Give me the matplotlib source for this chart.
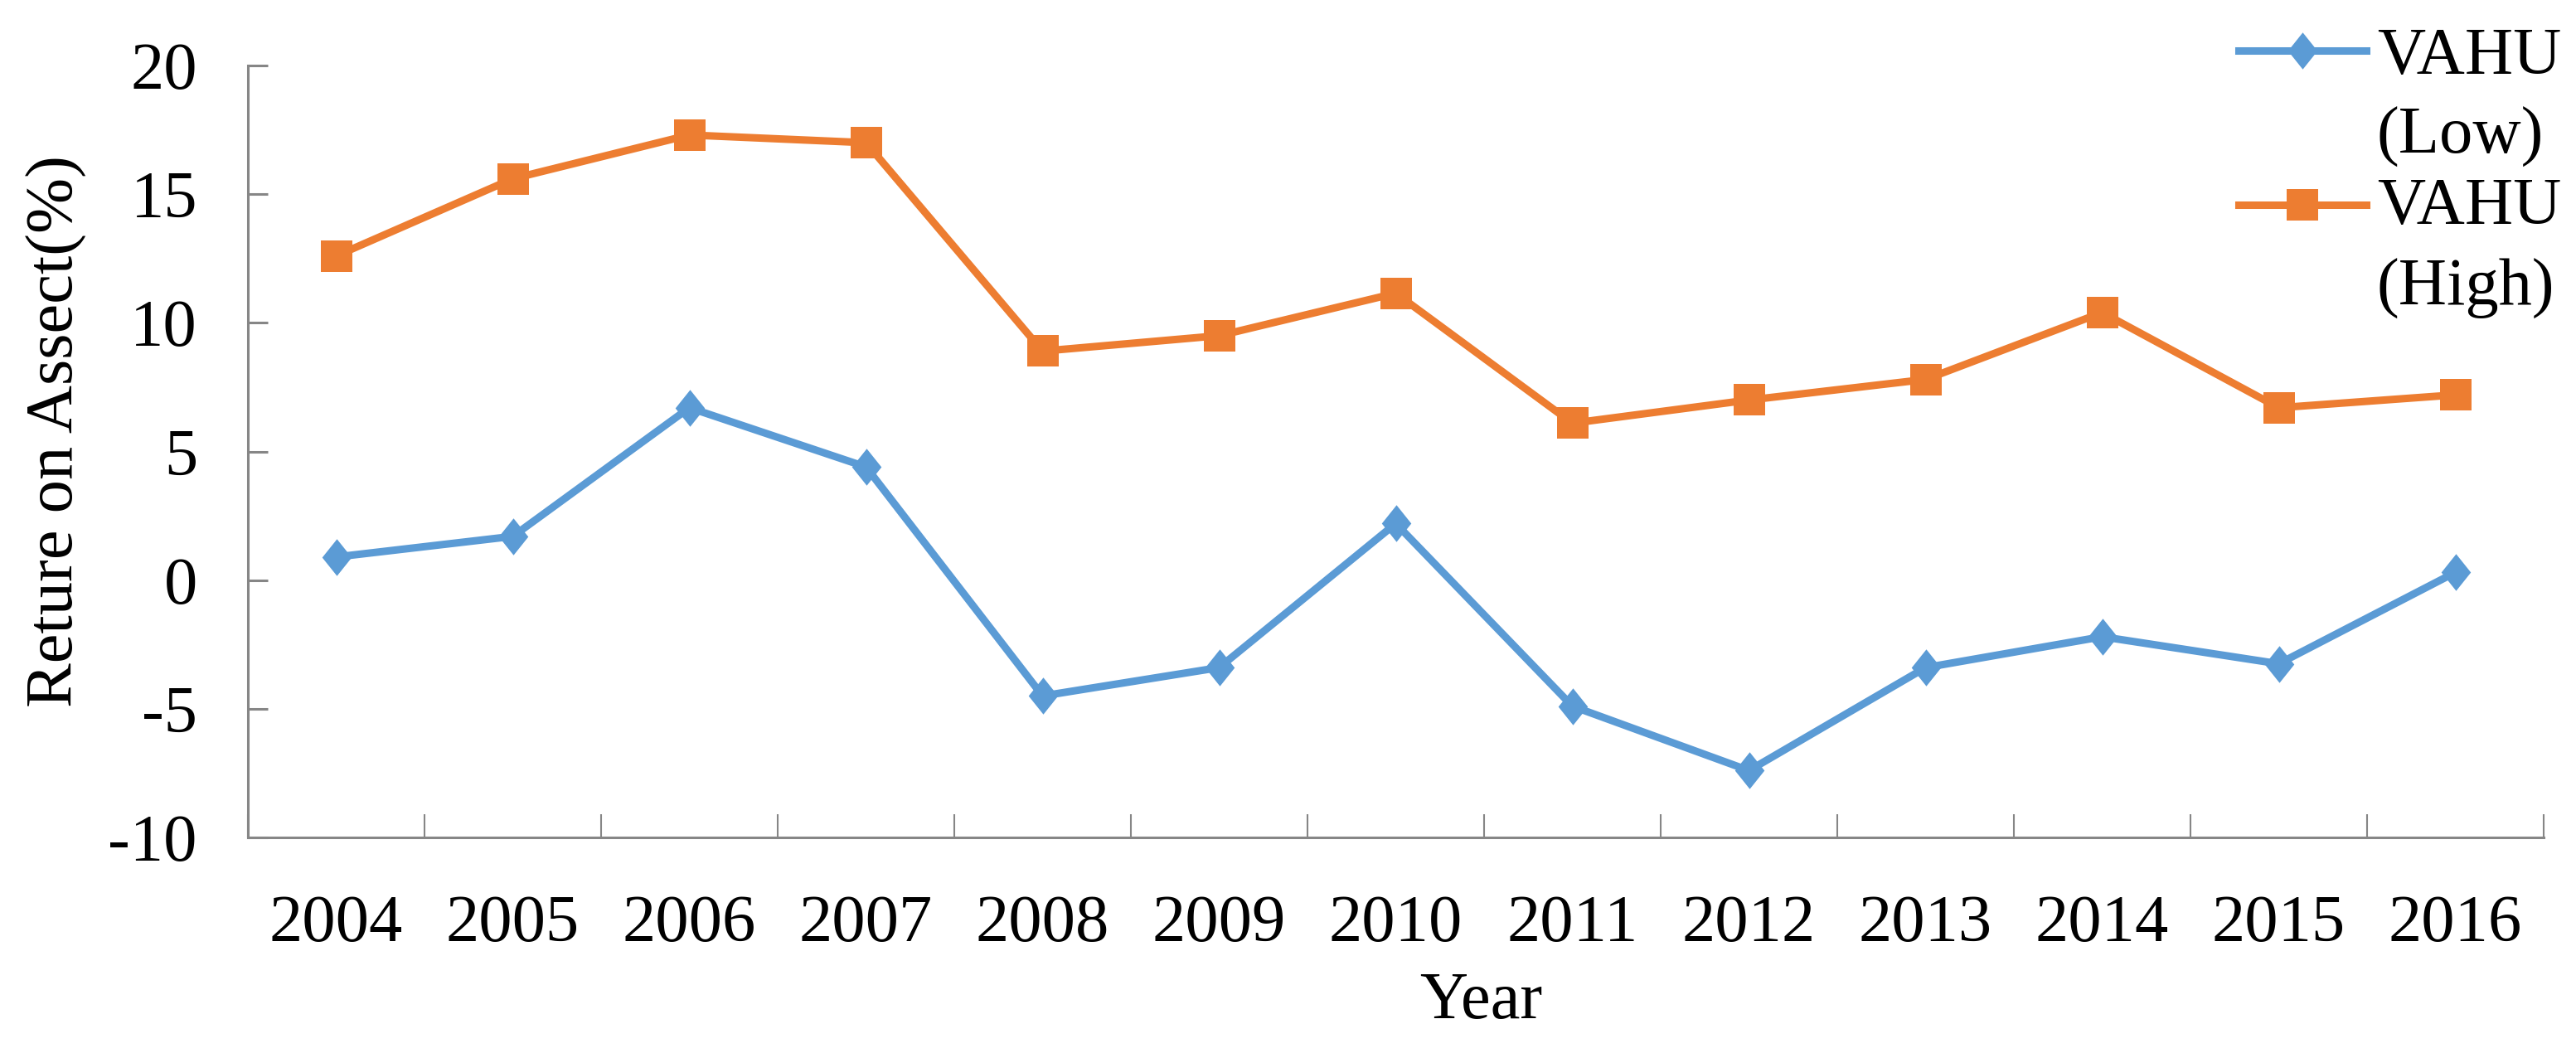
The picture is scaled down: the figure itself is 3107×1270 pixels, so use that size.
import matplotlib
matplotlib.use("Agg")
import matplotlib.pyplot as plt
from matplotlib.lines import Line2D
from matplotlib.path import Path
import numpy as np

years = ["2004", "2005", "2006", "2007", "2008", "2009", "2010",
         "2011", "2012", "2013", "2014", "2015", "2016"]
vahu_low = [0.9, 1.7, 6.7, 4.4, -4.5, -3.4, 2.2, -4.9, -7.4, -3.4, -2.2, -3.25, 0.3]
vahu_high = [12.6, 15.6, 17.3, 17.0, 8.9, 9.5, 11.15, 6.1, 7.0, 7.8, 10.4, 6.7, 7.2]
yticks = [-10, -5, 0, 5, 10, 15, 20]
series_labels = [["VAHU", "(Low)"], ["VAHU", "(High)"]]

plt.rcParams['font.family'] = ['Liberation Serif', 'DejaVu Serif']

W, H = 3107, 1270
FS = 58
fig = plt.figure(figsize=(W / 100, H / 100), dpi=100)
ax = fig.add_axes([299 / W, 1 - 1010 / H, (3068 - 299) / W, (1010 - 79) / H])

blue = '#5B9BD5'
orange = '#ED7D31'
diamond = Path([(0, 1), (0.8, 0), (0, -1), (-0.8, 0), (0, 1)],
               [Path.MOVETO, Path.LINETO, Path.LINETO, Path.LINETO, Path.CLOSEPOLY])

x = np.arange(len(years))
ax.plot(x, vahu_low, color=blue, lw=6.5, marker=diamond, ms=32, mec=blue, mfc=blue,
        mew=0, solid_joinstyle='round')
ax.plot(x, vahu_high, color=orange, lw=6.5, marker='s', ms=28, mec=orange, mfc=orange,
        mew=0, solid_joinstyle='round')

ax.set_xlim(-0.5, len(years) - 0.5)
ax.set_ylim(-10, 20)
ax.set_yticks(yticks)
ax.set_yticklabels([str(v) for v in yticks])
ax.set_xticks(x)
ax.set_xticklabels(years)
ax.set_xticks(np.arange(-0.5, len(years)), minor=True)

for s in ['top', 'right']:
    ax.spines[s].set_visible(False)
for s in ['left', 'bottom']:
    ax.spines[s].set_color('#868686')
    ax.spines[s].set_linewidth(2.2)

ax.tick_params(axis='y', direction='in', length=17, width=2.2, color='#868686',
               labelsize=FS, pad=44)
ax.tick_params(axis='x', which='major', length=0, labelsize=FS, pad=50)
ax.tick_params(axis='x', which='minor', direction='in', length=20, width=1.5,
               color='#868686')

fig.text(88 / W, 1 - 520 / H, 'Reture on Assect(%)', rotation=90, fontsize=FS,
         ha='center', va='baseline', rotation_mode='anchor')
fig.text(1786 / W, 1 - 1228 / H, 'Year', fontsize=FS, ha='center', va='baseline')

# legend (drawn by hand to follow the reference layout)
legend_specs = [
    (blue, diamond, 32, 61, [89, 185]),
    (orange, 's', 28, 247, [270, 368]),
]
for (col, mk, ms, ly, baselines), lab in zip(legend_specs, series_labels):
    fig.add_artist(Line2D([2700 / W, 2854 / W], [1 - ly / H, 1 - ly / H],
                          transform=fig.transFigure, color=col, lw=6.5))
    fig.add_artist(Line2D([2777 / W], [1 - ly / H], transform=fig.transFigure,
                          marker=mk, ms=ms, mfc=col, mec=col, mew=0, ls='none'))
    for txt, b in zip(lab, baselines):
        fig.text(2867 / W, 1 - b / H, txt, fontsize=FS, ha='left', va='baseline')

fig.savefig('out.png', dpi=100)
